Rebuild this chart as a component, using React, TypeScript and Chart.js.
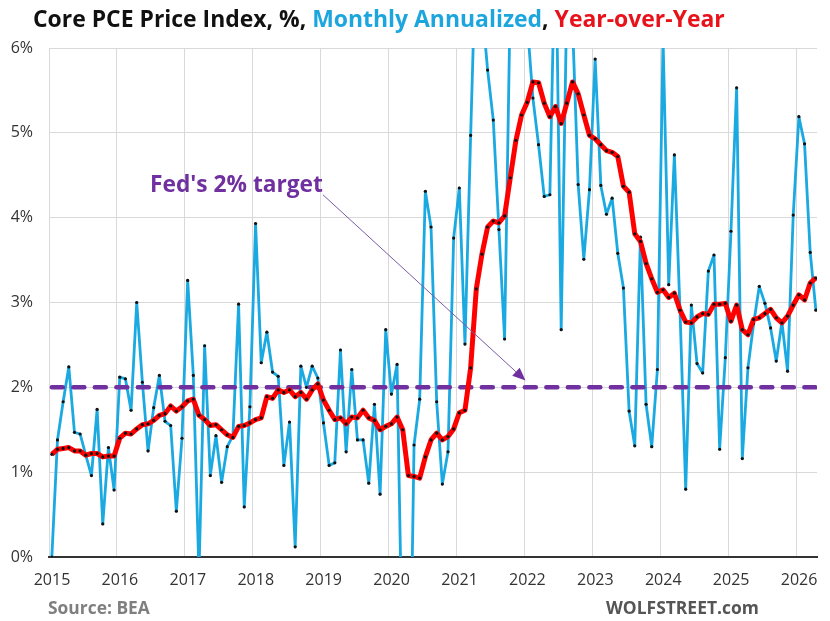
import React, { useEffect, useRef } from "react";
import { Chart, registerables } from "chart.js";

Chart.register(...registerables);

// ---------------- data ----------------
const YEARS = ["2015", "2016", "2017", "2018", "2019", "2020", "2021", "2022", "2023", "2024", "2025", "2026"];
const Y_TICKS = [0, 1, 2, 3, 4, 5, 6];

// Core PCE, monthly change annualized, % (Jan 2015 .. Apr 2026)
const MONTHLY_ANNUALIZED = [
  0.0, 1.38, 1.83, 2.24, 1.47, 1.45, 1.2, 0.96, 1.74, 0.39, 1.29, 0.79,
  2.12, 2.1, 1.73, 3.0, 2.06, 1.25, 1.76, 2.14, 1.6, 1.55, 0.54, 1.4,
  3.26, 2.14, -0.2, 2.49, 0.96, 1.43, 0.88, 1.3, 1.43, 2.98, 0.59, 1.77,
  3.93, 2.29, 2.65, 2.18, 2.13, 1.08, 1.59, 0.12, 2.25, 2.0, 2.25, 2.11,
  1.58, 1.08, 1.11, 2.44, 1.24, 2.21, 1.38, 1.38, 0.87, 1.8, 0.74, 2.68,
  1.92, 2.27, -1.5, -3.0, 1.32, 1.86, 4.31, 3.89, 1.83, 0.86, 1.24, 3.76,
  4.35, 2.51, 4.97, 7.3, 6.5, 5.74, 5.15, 3.86, 2.57, 6.6, 7.0, 6.8,
  6.3, 5.41, 4.86, 4.25, 4.27, 7.5, 2.68, 6.6, 6.3, 4.39, 3.51, 4.33,
  5.87, 4.38, 4.04, 4.23, 3.58, 3.17, 1.72, 1.31, 3.77, 1.8, 1.3, 2.21,
  6.1, 3.21, 4.74, 2.89, 0.8, 2.97, 2.28, 2.17, 3.37, 3.56, 1.27, 2.35,
  3.84, 5.53, 1.16, 2.23, 2.75, 3.19, 2.99, 2.7, 2.31, 2.77, 2.19, 4.03,
  5.19, 4.87, 3.59, 2.91,
];

// Core PCE, year-over-year, %
const YEAR_OVER_YEAR = [
  1.21, 1.27, 1.28, 1.29, 1.25, 1.25, 1.2, 1.22, 1.22, 1.18, 1.19, 1.19,
  1.4, 1.46, 1.45, 1.51, 1.56, 1.57, 1.61, 1.67, 1.69, 1.78, 1.72, 1.77,
  1.84, 1.86, 1.67, 1.62, 1.55, 1.56, 1.5, 1.44, 1.41, 1.54, 1.55, 1.58,
  1.62, 1.64, 1.89, 1.87, 1.97, 1.94, 1.97, 1.89, 1.94, 1.86, 1.97, 2.04,
  1.85, 1.73, 1.62, 1.64, 1.57, 1.65, 1.64, 1.73, 1.64, 1.61, 1.5, 1.54,
  1.57, 1.65, 1.5, 0.96, 0.95, 0.93, 1.18, 1.38, 1.46, 1.38, 1.42, 1.51,
  1.7, 1.73, 2.23, 3.16, 3.57, 3.89, 3.96, 3.94, 4.02, 4.47, 4.91, 5.21,
  5.36, 5.6, 5.59, 5.35, 5.19, 5.31, 5.11, 5.35, 5.6, 5.46, 5.21, 4.97,
  4.93, 4.86, 4.79, 4.77, 4.72, 4.37, 4.3, 3.81, 3.72, 3.46, 3.28, 3.12,
  3.15, 3.06, 3.11, 2.91, 2.77, 2.76, 2.83, 2.87, 2.86, 2.98, 2.98, 2.99,
  2.78, 2.97, 2.68, 2.62, 2.8, 2.82, 2.87, 2.92, 2.82, 2.76, 2.84, 2.97,
  3.09, 3.03, 3.23, 3.29,
];

const FED_TARGET = 2;

// ---------------- styling ----------------
const FONT = '"Open Sans", "Noto Sans", "DejaVu Sans", sans-serif';
const BLUE = "#1AA9E1";
const RED = "#FF0000";
const PURPLE = "#7030A0";
const GRID = "#D9D9D9";
const TICK_COLOR = "#333333";

const TITLE_PARTS = [
  { text: "Core PCE Price Index, %, ", color: "#111111" },
  { text: "Monthly Annualized", color: "#1DA6DE" },
  { text: ", ", color: "#111111" },
  { text: "Year-over-Year", color: "#E8121B" },
];

// annotation anchors in data units (month index, percent)
const NOTE_TEXT = "Fed's 2% target";
const NOTE_FROM = { x: 17.35, y: 4.3 };
const NOTE_TO_X = 47.9;
const ARROW_FROM = { x: 47.9, y: 4.27 };
const ARROW_TO = { x: 83.7, y: 2.08 };

function fitSize(ctx: CanvasRenderingContext2D, text: string, weight: string, target: number) {
  const base = 20;
  ctx.font = `${weight} ${base}px ${FONT}`;
  const w = ctx.measureText(text).width;
  return (base * target) / w;
}

const decorPlugin = {
  id: "decor",
  afterDatasetsDraw(chart: any) {
    const { ctx, scales } = chart;
    const x = scales.x;
    const y = scales.y;
    ctx.save();
    // arrow line
    const ax0 = x.getPixelForValue(ARROW_FROM.x);
    const ay0 = y.getPixelForValue(ARROW_FROM.y);
    const ax1 = x.getPixelForValue(ARROW_TO.x);
    const ay1 = y.getPixelForValue(ARROW_TO.y);
    const ang = Math.atan2(ay1 - ay0, ax1 - ax0);
    const headLen = 13;
    const headHalf = 5.5;
    const bx = ax1 - headLen * Math.cos(ang);
    const by = ay1 - headLen * Math.sin(ang);
    ctx.strokeStyle = "#7A5AA8";
    ctx.lineWidth = 1;
    ctx.beginPath();
    ctx.moveTo(ax0, ay0);
    ctx.lineTo(bx, by);
    ctx.stroke();
    ctx.fillStyle = PURPLE;
    ctx.beginPath();
    ctx.moveTo(ax1, ay1);
    ctx.lineTo(bx + headHalf * Math.sin(ang), by - headHalf * Math.cos(ang));
    ctx.lineTo(bx - headHalf * Math.sin(ang), by + headHalf * Math.cos(ang));
    ctx.closePath();
    ctx.fill();

    // annotation text
    const tx0 = x.getPixelForValue(NOTE_FROM.x);
    const tx1 = x.getPixelForValue(NOTE_TO_X);
    const size = fitSize(ctx, NOTE_TEXT, "bold", tx1 - tx0);
    ctx.font = `bold ${size}px ${FONT}`;
    ctx.fillStyle = PURPLE;
    ctx.textBaseline = "alphabetic";
    ctx.textAlign = "left";
    ctx.fillText(NOTE_TEXT, tx0, y.getPixelForValue(NOTE_FROM.y));
    ctx.restore();
  },
  afterDraw(chart: any) {
    const { ctx } = chart;
    ctx.save();
    ctx.textBaseline = "alphabetic";
    ctx.textAlign = "left";
    // title
    const full = TITLE_PARTS.map((p) => p.text).join("");
    const tSize = fitSize(ctx, full, "bold", 692);
    ctx.font = `bold ${tSize}px ${FONT}`;
    let cx = 33;
    for (const p of TITLE_PARTS) {
      ctx.fillStyle = p.color;
      ctx.fillText(p.text, cx, 27);
      cx += ctx.measureText(p.text).width;
    }
    // source
    const sSize = fitSize(ctx, "Source: BEA", "bold", 102);
    ctx.font = `bold ${sSize}px ${FONT}`;
    ctx.fillStyle = "#7F7F7F";
    ctx.fillText("Source: BEA", 48, 614);
    const wSize = fitSize(ctx, "WOLFSTREET.com", "bold", 153);
    ctx.font = `bold ${wSize}px ${FONT}`;
    ctx.fillStyle = "#555555";
    ctx.fillText("WOLFSTREET.com", 606, 614);
    ctx.restore();
  },
};

export default function App() {
  const canvasRef = useRef<HTMLCanvasElement | null>(null);

  useEffect(() => {
    document.body.style.margin = "0";
    document.body.style.background = "#ffffff";
    const canvas = canvasRef.current;
    if (!canvas) return;
    const lastIndex = MONTHLY_ANNUALIZED.length - 1;

    const chart = new Chart(canvas, {
      type: "line",
      data: {
        datasets: [
          {
            label: "Year-over-Year",
            data: YEAR_OVER_YEAR.map((v, i) => ({ x: i, y: v })),
            borderColor: RED,
            backgroundColor: RED,
            borderWidth: 5,
            pointRadius: 1.6,
            pointBackgroundColor: "#111111",
            pointBorderWidth: 0,
            pointHoverRadius: 0,
            tension: 0,
            borderJoinStyle: "round",
          },
          {
            label: "Fed's 2% target",
            data: [
              { x: 0, y: FED_TARGET },
              { x: lastIndex, y: FED_TARGET },
            ],
            borderColor: PURPLE,
            borderWidth: 4.5,
            borderDash: [11, 10.5],
            borderCapStyle: "round",
            pointRadius: 0,
            pointHoverRadius: 0,
          },
          {
            label: "Monthly Annualized",
            data: MONTHLY_ANNUALIZED.map((v, i) => ({ x: i, y: v })),
            borderColor: BLUE,
            backgroundColor: BLUE,
            borderWidth: 2.8,
            pointRadius: 1.6,
            pointBackgroundColor: "#111111",
            pointBorderWidth: 0,
            pointHoverRadius: 0,
            tension: 0,
            borderJoinStyle: "round",
          },
        ],
      },
      options: {
        animation: false,
        responsive: false,
        maintainAspectRatio: false,
        events: [],
        layout: { padding: { top: 48, right: 13, bottom: 0, left: 0 } },
        plugins: {
          legend: { display: false },
          tooltip: { enabled: false },
          title: { display: false },
        },
        scales: {
          x: {
            type: "linear",
            min: -0.5,
            max: 135.2,
            afterBuildTicks: (scale: any) => {
              scale.ticks = YEARS.map((_, k) => ({ value: 12 * k - 0.5 }));
            },
            afterFit: (scale: any) => {
              scale.height = 64;
            },
            ticks: {
              autoSkip: false,
              maxRotation: 0,
              labelOffset: 3,
              padding: 14,
              color: TICK_COLOR,
              font: { family: FONT, size: 16 },
              callback: (_v: any, index: number) => YEARS[index],
            },
            grid: { color: GRID, lineWidth: 1, drawTicks: false },
            border: { display: true, color: "#333333", width: 2 },
          },
          y: {
            type: "linear",
            min: 0,
            max: 6,
            afterBuildTicks: (scale: any) => {
              scale.ticks = Y_TICKS.map((v) => ({ value: v }));
            },
            afterFit: (scale: any) => {
              scale.width = 49;
            },
            ticks: {
              padding: 16,
              color: TICK_COLOR,
              font: { family: FONT, size: 16 },
              callback: (v: any) => `${v}%`,
            },
            grid: { color: GRID, lineWidth: 1, drawTicks: false },
            border: { display: false },
          },
        },
      },
      plugins: [decorPlugin],
    } as any);

    return () => {
      chart.destroy();
    };
  }, []);

  return (
    <div style={{ width: 830, height: 621, background: "#ffffff" }}>
      <canvas ref={canvasRef} width={830} height={621} style={{ display: "block", width: 830, height: 621 }} />
    </div>
  );
}
